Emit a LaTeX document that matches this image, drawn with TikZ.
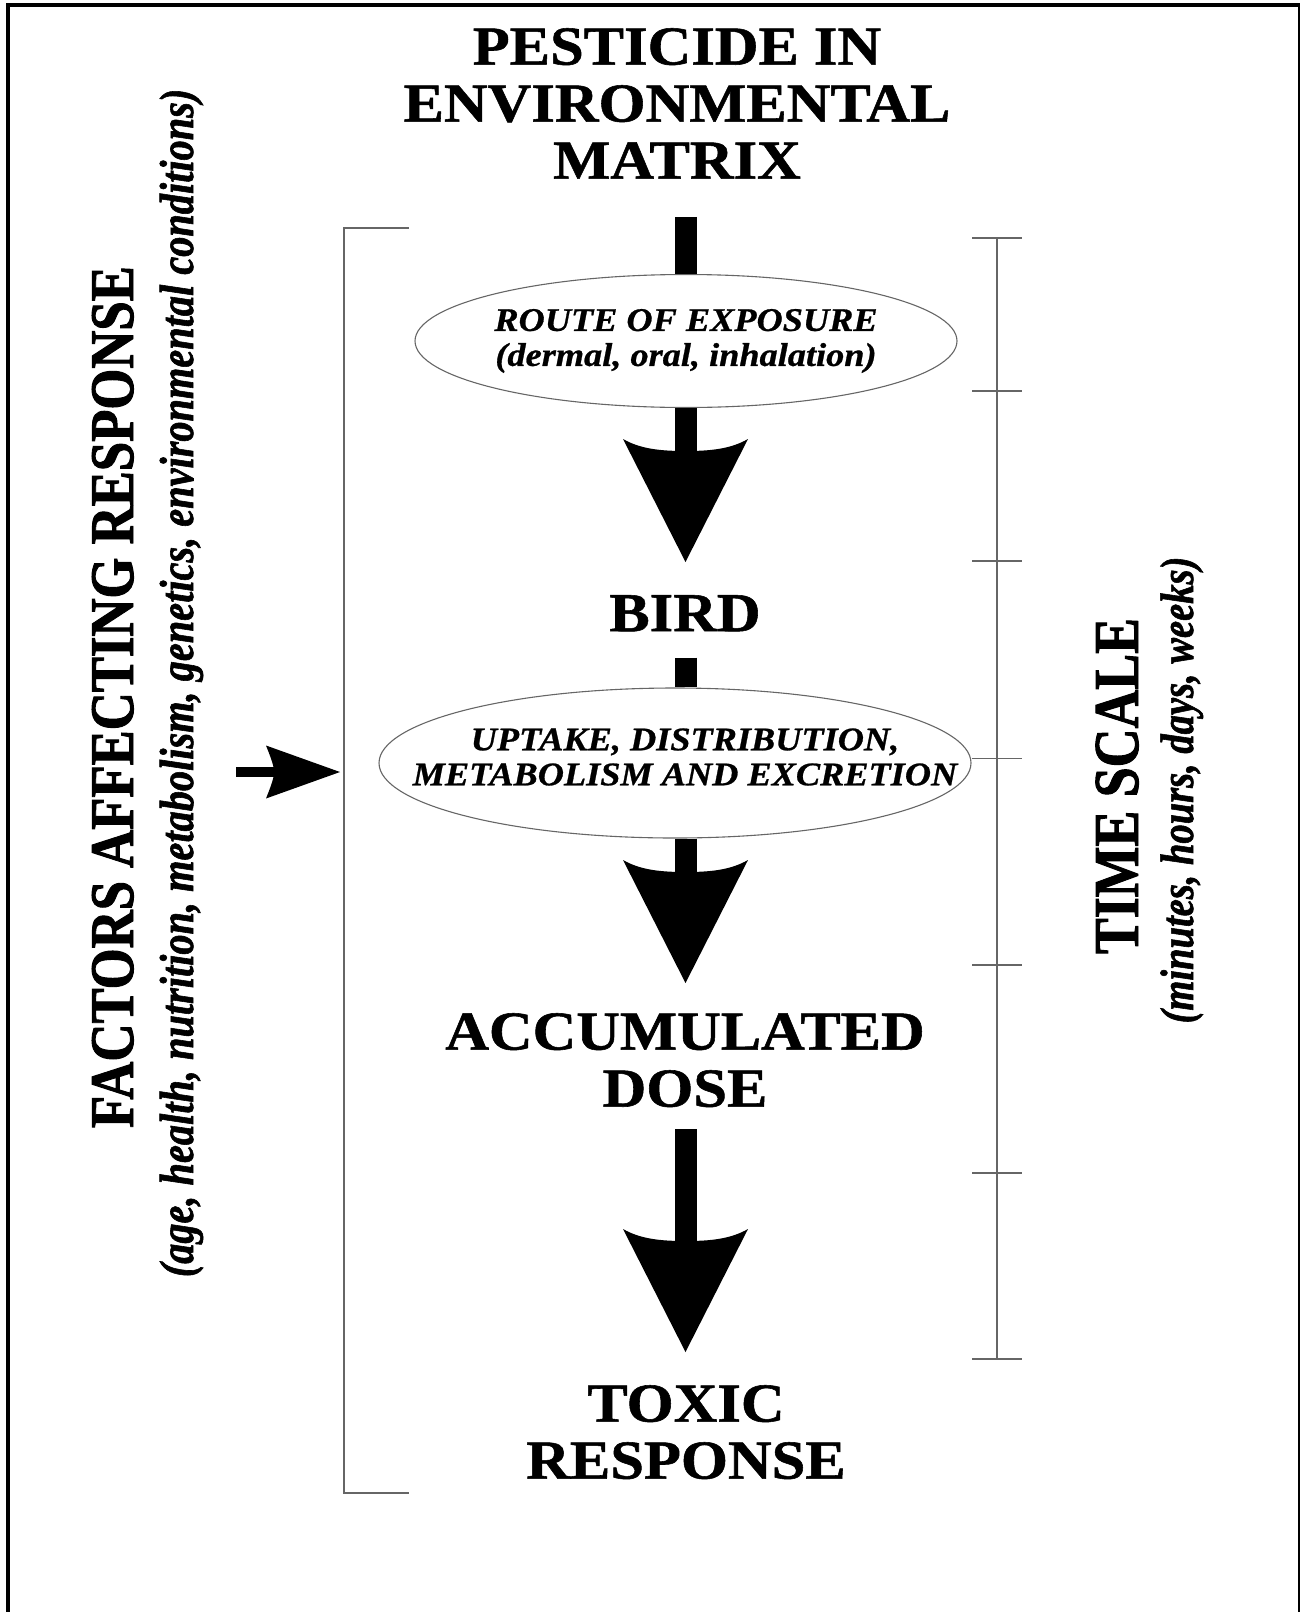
\documentclass[tikz,border=0pt]{standalone}
\usepackage{fontspec}
\usetikzlibrary{shapes.geometric}
% Times-like faces, widened for the flow labels, narrowed (and thickened) for the side captions
\newfontfamily\headfont{Liberation Serif}[FakeStretch=1.10,FakeBold=1]
\newfontfamily\ovalfont{Liberation Serif}[FakeStretch=1.10,FakeBold=0.8]
\newfontfamily\sidefont{Liberation Serif}[FakeStretch=0.85,FakeBold=1.5]
\newfontfamily\sidesubfont{Liberation Serif}[FakeStretch=0.84,FakeBold=1.2]
\newfontfamily\timefont{Liberation Serif}[FakeStretch=0.84,FakeBold=1.5]
\newfontfamily\timesubfont{Liberation Serif}[FakeStretch=0.82,FakeBold=1.2]

\begin{document}
\begin{tikzpicture}[x=1pt,y=-1pt,
  heading/.style={font=\headfont\bfseries\fontsize{55}{57}\selectfont,
    align=center, inner sep=0pt, anchor=north},
  oval/.style={ellipse, draw=black!60, line width=1.1pt, fill=white, inner sep=0pt},
  ovaltext/.style={font=\ovalfont\bfseries\itshape\fontsize{33}{35}\selectfont,
    align=center, inner sep=0pt},
  stem/.style={line width=22pt},
  guide/.style={draw=black!60, line width=1.5pt},
  sidelabel/.style={rotate=90, anchor=base, inner sep=0pt},
  bighead/.pic={
    \fill (0,0) -- (-62.5,-123) .. controls (-45,-113) and (-25,-111) .. (0,-111)
      .. controls (25,-111) and (45,-113) .. (62.5,-123) -- cycle;},
  smallhead/.pic={
    \fill (0,0) -- (-74,-26.5) .. controls (-69,-14) and (-66,-6) .. (-66,0)
      .. controls (-66,6) and (-69,14) .. (-74,26.5) -- cycle;}
]
\useasboundingbox (0,0) rectangle (1299,1612);

% frame
\draw[line width=4pt] (8,1612) -- (8,5) -- (1299,5);
\draw[line width=3pt] (1299,3) -- (1299,1612);

% central axis of the flow
\coordinate (axis) at (685.5,0);

% flow nodes
\node[heading] (title) at (677,28) {PESTICIDE IN\\ENVIRONMENTAL\\MATRIX};
\node[oval, ovaltext, minimum width=466pt, minimum height=133pt] (ell1) at (686,341)
  {ROUTE OF EXPOSURE\\(dermal, oral, inhalation)};
\node[heading] (bird) at (685,595) {BIRD};
\node[oval, minimum width=592pt, minimum height=150pt] (ell2) at (675,763) {};
\node[ovaltext] (ell2txt) at (685,757) {UPTAKE, DISTRIBUTION,\\METABOLISM AND EXCRETION};
\node[heading] (dose) at (685,1013) {ACCUMULATED\\DOSE};
\node[heading] (toxic) at (686,1385) {TOXIC\\RESPONSE};

% arrow tips above the boxes they point at
\coordinate (tip1) at ([yshift=33pt]bird.north -| axis);
\coordinate (tip2) at ([yshift=30pt]dose.north -| axis);
\coordinate (tip3) at ([yshift=33pt]toxic.north -| axis);

% stems
\draw[stem] ([yshift=-38pt]title.south -| axis) -- (ell1.north -| axis);
\draw[stem] (ell1.south -| axis) -- ([yshift=107pt]tip1);
\draw[stem] ([yshift=-26pt]bird.south -| axis) -- (ell2.north -| axis);
\draw[stem] (ell2.south -| axis) -- ([yshift=107pt]tip2);
\draw[stem] ([yshift=-22pt]dose.south -| axis) -- ([yshift=107pt]tip3);

% arrow heads
\pic at (tip1) {bighead};
\pic at (tip2) {bighead};
\pic at (tip3) {bighead};

% left bracket with incoming arrow
\draw[guide] (409,228) -- (344,228) -- (344,1493) -- (409,1493);
\coordinate (brk) at (344,772);
\coordinate (src) at (236,772);
\draw[line width=10pt] (src) -- ([xshift=-68pt]brk);
\pic at ([xshift=-4pt]brk) {smallhead};

% time scale
\draw[guide] (997,238) -- (997,1359);
\foreach \t in {238,391,561,758.5,965,1173,1359}
  \draw[guide] (972,\t) -- (1022,\t);

% side captions
\node[sidelabel, font=\sidefont\bfseries\fontsize{62}{62}\selectfont] (factors)
  at (133,697) {FACTORS AFFECTING RESPONSE};
\node[sidelabel, font=\sidesubfont\bfseries\itshape\fontsize{48}{48}\selectfont] (factorsub)
  at (193,683) {(age, health, nutrition, metabolism, genetics, environmental conditions)};
\node[sidelabel, font=\timefont\bfseries\fontsize{64}{64}\selectfont] (time)
  at (1138,786) {TIME SCALE};
\node[sidelabel, font=\timesubfont\bfseries\itshape\fontsize{47}{47}\selectfont] (timesub)
  at (1193,790) {(minutes, hours, days, weeks)};
\end{tikzpicture}
\end{document}
